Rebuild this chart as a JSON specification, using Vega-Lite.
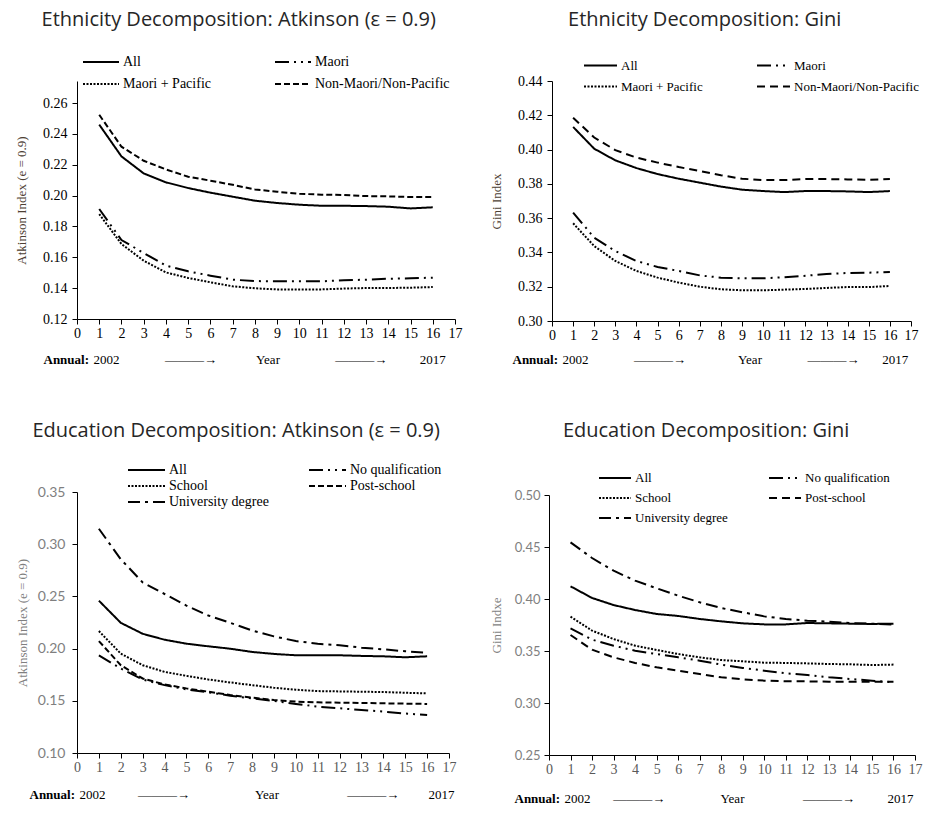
{
  "$schema": "https://vega.github.io/schema/vega-lite/v6.json",
  "background": "white",
  "padding": {"left": 15, "top": 10, "right": 2, "bottom": 2},
  "columns": 2,
  "align": "none",
  "spacing": {"row": 55, "column": 28},
  "resolve": {"scale": {"strokeDash": "independent"}, "legend": {"strokeDash": "independent"}},
  "config": {
    "view": {"stroke": null},
    "axis": {"grid": false, "domainColor": "#000000", "tickColor": "#000000", "tickSize": 5, "labelFont": "Liberation Serif", "labelFontSize": 14, "labelColor": "#000000", "labelOverlap": false, "labelFlush": false, "titleFont": "Liberation Serif", "titleFontSize": 13, "titleFontWeight": "normal", "titleColor": "#000000"},
    "axisX": {"titleAnchor": "start", "titleAlign": "left", "titleBaseline": "middle"},
    "legend": {"labelFont": "Liberation Serif", "labelFontSize": 14, "labelColor": "#000000", "labelOffset": 3, "symbolType": "stroke", "symbolStrokeColor": "#000000", "symbolStrokeWidth": 2, "symbolSize": 1296, "title": null, "padding": 0, "rowPadding": 0},
    "title": {"font": "Open Sans", "fontSize": 20, "fontWeight": "normal", "color": "#262626", "anchor": "middle", "frame": "bounds"}
  },
  "datasets": {
    "eth_atk": [
      {"g": "All", "t": 1, "v": 0.246}, {"g": "All", "t": 2, "v": 0.2254}, {"g": "All", "t": 3, "v": 0.2144}, {"g": "All", "t": 4, "v": 0.2086}, {"g": "All", "t": 5, "v": 0.2049}, {"g": "All", "t": 6, "v": 0.2019}, {"g": "All", "t": 7, "v": 0.1993}, {"g": "All", "t": 8, "v": 0.1967}, {"g": "All", "t": 9, "v": 0.1952}, {"g": "All", "t": 10, "v": 0.1941}, {"g": "All", "t": 11, "v": 0.1934}, {"g": "All", "t": 12, "v": 0.1934}, {"g": "All", "t": 13, "v": 0.1932}, {"g": "All", "t": 14, "v": 0.1928}, {"g": "All", "t": 15, "v": 0.1917}, {"g": "All", "t": 16, "v": 0.1924},
      {"g": "Maori", "t": 1, "v": 0.1913}, {"g": "Maori", "t": 2, "v": 0.1712}, {"g": "Maori", "t": 3, "v": 0.1628}, {"g": "Maori", "t": 4, "v": 0.1546}, {"g": "Maori", "t": 5, "v": 0.1509}, {"g": "Maori", "t": 6, "v": 0.1481}, {"g": "Maori", "t": 7, "v": 0.1455}, {"g": "Maori", "t": 8, "v": 0.1446}, {"g": "Maori", "t": 9, "v": 0.1444}, {"g": "Maori", "t": 10, "v": 0.1444}, {"g": "Maori", "t": 11, "v": 0.1444}, {"g": "Maori", "t": 12, "v": 0.1451}, {"g": "Maori", "t": 13, "v": 0.1455}, {"g": "Maori", "t": 14, "v": 0.1461}, {"g": "Maori", "t": 15, "v": 0.1464}, {"g": "Maori", "t": 16, "v": 0.1468},
      {"g": "Maori + Pacific", "t": 1, "v": 0.188}, {"g": "Maori + Pacific", "t": 2, "v": 0.1686}, {"g": "Maori + Pacific", "t": 3, "v": 0.1578}, {"g": "Maori + Pacific", "t": 4, "v": 0.1502}, {"g": "Maori + Pacific", "t": 5, "v": 0.1466}, {"g": "Maori + Pacific", "t": 6, "v": 0.1438}, {"g": "Maori + Pacific", "t": 7, "v": 0.1412}, {"g": "Maori + Pacific", "t": 8, "v": 0.1399}, {"g": "Maori + Pacific", "t": 9, "v": 0.1392}, {"g": "Maori + Pacific", "t": 10, "v": 0.1392}, {"g": "Maori + Pacific", "t": 11, "v": 0.1392}, {"g": "Maori + Pacific", "t": 12, "v": 0.1397}, {"g": "Maori + Pacific", "t": 13, "v": 0.1401}, {"g": "Maori + Pacific", "t": 14, "v": 0.1401}, {"g": "Maori + Pacific", "t": 15, "v": 0.1403}, {"g": "Maori + Pacific", "t": 16, "v": 0.1407},
      {"g": "Non-Maori/Non-Pacific", "t": 1, "v": 0.2524}, {"g": "Non-Maori/Non-Pacific", "t": 2, "v": 0.2317}, {"g": "Non-Maori/Non-Pacific", "t": 3, "v": 0.2226}, {"g": "Non-Maori/Non-Pacific", "t": 4, "v": 0.217}, {"g": "Non-Maori/Non-Pacific", "t": 5, "v": 0.2122}, {"g": "Non-Maori/Non-Pacific", "t": 6, "v": 0.2097}, {"g": "Non-Maori/Non-Pacific", "t": 7, "v": 0.207}, {"g": "Non-Maori/Non-Pacific", "t": 8, "v": 0.204}, {"g": "Non-Maori/Non-Pacific", "t": 9, "v": 0.2025}, {"g": "Non-Maori/Non-Pacific", "t": 10, "v": 0.2012}, {"g": "Non-Maori/Non-Pacific", "t": 11, "v": 0.2006}, {"g": "Non-Maori/Non-Pacific", "t": 12, "v": 0.2004}, {"g": "Non-Maori/Non-Pacific", "t": 13, "v": 0.1997}, {"g": "Non-Maori/Non-Pacific", "t": 14, "v": 0.1995}, {"g": "Non-Maori/Non-Pacific", "t": 15, "v": 0.1991}, {"g": "Non-Maori/Non-Pacific", "t": 16, "v": 0.1991}
    ],
    "eth_gini": [
      {"g": "All", "t": 1, "v": 0.4132}, {"g": "All", "t": 2, "v": 0.4005}, {"g": "All", "t": 3, "v": 0.3937}, {"g": "All", "t": 4, "v": 0.3892}, {"g": "All", "t": 5, "v": 0.3857}, {"g": "All", "t": 6, "v": 0.383}, {"g": "All", "t": 7, "v": 0.3807}, {"g": "All", "t": 8, "v": 0.3784}, {"g": "All", "t": 9, "v": 0.3766}, {"g": "All", "t": 10, "v": 0.3758}, {"g": "All", "t": 11, "v": 0.3752}, {"g": "All", "t": 12, "v": 0.3758}, {"g": "All", "t": 13, "v": 0.3758}, {"g": "All", "t": 14, "v": 0.3756}, {"g": "All", "t": 15, "v": 0.3752}, {"g": "All", "t": 16, "v": 0.3758},
      {"g": "Maori", "t": 1, "v": 0.3632}, {"g": "Maori", "t": 2, "v": 0.3486}, {"g": "Maori", "t": 3, "v": 0.3408}, {"g": "Maori", "t": 4, "v": 0.335}, {"g": "Maori", "t": 5, "v": 0.3315}, {"g": "Maori", "t": 6, "v": 0.3292}, {"g": "Maori", "t": 7, "v": 0.3266}, {"g": "Maori", "t": 8, "v": 0.3253}, {"g": "Maori", "t": 9, "v": 0.3249}, {"g": "Maori", "t": 10, "v": 0.3249}, {"g": "Maori", "t": 11, "v": 0.3255}, {"g": "Maori", "t": 12, "v": 0.3264}, {"g": "Maori", "t": 13, "v": 0.3274}, {"g": "Maori", "t": 14, "v": 0.328}, {"g": "Maori", "t": 15, "v": 0.3282}, {"g": "Maori", "t": 16, "v": 0.3286},
      {"g": "Maori + Pacific", "t": 1, "v": 0.357}, {"g": "Maori + Pacific", "t": 2, "v": 0.3437}, {"g": "Maori + Pacific", "t": 3, "v": 0.335}, {"g": "Maori + Pacific", "t": 4, "v": 0.3292}, {"g": "Maori + Pacific", "t": 5, "v": 0.3253}, {"g": "Maori + Pacific", "t": 6, "v": 0.3224}, {"g": "Maori + Pacific", "t": 7, "v": 0.32}, {"g": "Maori + Pacific", "t": 8, "v": 0.3185}, {"g": "Maori + Pacific", "t": 9, "v": 0.3179}, {"g": "Maori + Pacific", "t": 10, "v": 0.3179}, {"g": "Maori + Pacific", "t": 11, "v": 0.3183}, {"g": "Maori + Pacific", "t": 12, "v": 0.3187}, {"g": "Maori + Pacific", "t": 13, "v": 0.3193}, {"g": "Maori + Pacific", "t": 14, "v": 0.3198}, {"g": "Maori + Pacific", "t": 15, "v": 0.3198}, {"g": "Maori + Pacific", "t": 16, "v": 0.3204},
      {"g": "Non-Maori/Non-Pacific", "t": 1, "v": 0.4186}, {"g": "Non-Maori/Non-Pacific", "t": 2, "v": 0.407}, {"g": "Non-Maori/Non-Pacific", "t": 3, "v": 0.3997}, {"g": "Non-Maori/Non-Pacific", "t": 4, "v": 0.3953}, {"g": "Non-Maori/Non-Pacific", "t": 5, "v": 0.3924}, {"g": "Non-Maori/Non-Pacific", "t": 6, "v": 0.3898}, {"g": "Non-Maori/Non-Pacific", "t": 7, "v": 0.3875}, {"g": "Non-Maori/Non-Pacific", "t": 8, "v": 0.385}, {"g": "Non-Maori/Non-Pacific", "t": 9, "v": 0.383}, {"g": "Non-Maori/Non-Pacific", "t": 10, "v": 0.3822}, {"g": "Non-Maori/Non-Pacific", "t": 11, "v": 0.3822}, {"g": "Non-Maori/Non-Pacific", "t": 12, "v": 0.3828}, {"g": "Non-Maori/Non-Pacific", "t": 13, "v": 0.3828}, {"g": "Non-Maori/Non-Pacific", "t": 14, "v": 0.3826}, {"g": "Non-Maori/Non-Pacific", "t": 15, "v": 0.3824}, {"g": "Non-Maori/Non-Pacific", "t": 16, "v": 0.3828}
    ],
    "edu_atk": [
      {"g": "All", "t": 1, "v": 0.2459}, {"g": "All", "t": 2, "v": 0.2247}, {"g": "All", "t": 3, "v": 0.2142}, {"g": "All", "t": 4, "v": 0.2085}, {"g": "All", "t": 5, "v": 0.2047}, {"g": "All", "t": 6, "v": 0.2022}, {"g": "All", "t": 7, "v": 0.1999}, {"g": "All", "t": 8, "v": 0.1968}, {"g": "All", "t": 9, "v": 0.1949}, {"g": "All", "t": 10, "v": 0.1936}, {"g": "All", "t": 11, "v": 0.1936}, {"g": "All", "t": 12, "v": 0.1936}, {"g": "All", "t": 13, "v": 0.193}, {"g": "All", "t": 14, "v": 0.1926}, {"g": "All", "t": 15, "v": 0.1917}, {"g": "All", "t": 16, "v": 0.1926},
      {"g": "No qualification", "t": 1, "v": 0.1936}, {"g": "No qualification", "t": 2, "v": 0.1809}, {"g": "No qualification", "t": 3, "v": 0.1704}, {"g": "No qualification", "t": 4, "v": 0.165}, {"g": "No qualification", "t": 5, "v": 0.1609}, {"g": "No qualification", "t": 6, "v": 0.1581}, {"g": "No qualification", "t": 7, "v": 0.1549}, {"g": "No qualification", "t": 8, "v": 0.1523}, {"g": "No qualification", "t": 9, "v": 0.1498}, {"g": "No qualification", "t": 10, "v": 0.147}, {"g": "No qualification", "t": 11, "v": 0.1444}, {"g": "No qualification", "t": 12, "v": 0.1428}, {"g": "No qualification", "t": 13, "v": 0.1412}, {"g": "No qualification", "t": 14, "v": 0.1397}, {"g": "No qualification", "t": 15, "v": 0.1378}, {"g": "No qualification", "t": 16, "v": 0.1365},
      {"g": "School", "t": 1, "v": 0.2168}, {"g": "School", "t": 2, "v": 0.1952}, {"g": "School", "t": 3, "v": 0.1841}, {"g": "School", "t": 4, "v": 0.1777}, {"g": "School", "t": 5, "v": 0.1739}, {"g": "School", "t": 6, "v": 0.1704}, {"g": "School", "t": 7, "v": 0.1676}, {"g": "School", "t": 8, "v": 0.165}, {"g": "School", "t": 9, "v": 0.1625}, {"g": "School", "t": 10, "v": 0.1606}, {"g": "School", "t": 11, "v": 0.1593}, {"g": "School", "t": 12, "v": 0.159}, {"g": "School", "t": 13, "v": 0.1587}, {"g": "School", "t": 14, "v": 0.1584}, {"g": "School", "t": 15, "v": 0.1577}, {"g": "School", "t": 16, "v": 0.1571},
      {"g": "Post-school", "t": 1, "v": 0.2072}, {"g": "Post-school", "t": 2, "v": 0.1841}, {"g": "Post-school", "t": 3, "v": 0.1714}, {"g": "Post-school", "t": 4, "v": 0.1657}, {"g": "Post-school", "t": 5, "v": 0.1619}, {"g": "Post-school", "t": 6, "v": 0.1587}, {"g": "Post-school", "t": 7, "v": 0.1555}, {"g": "Post-school", "t": 8, "v": 0.153}, {"g": "Post-school", "t": 9, "v": 0.1508}, {"g": "Post-school", "t": 10, "v": 0.1492}, {"g": "Post-school", "t": 11, "v": 0.1485}, {"g": "Post-school", "t": 12, "v": 0.1482}, {"g": "Post-school", "t": 13, "v": 0.1479}, {"g": "Post-school", "t": 14, "v": 0.1476}, {"g": "Post-school", "t": 15, "v": 0.1473}, {"g": "Post-school", "t": 16, "v": 0.147},
      {"g": "University degree", "t": 1, "v": 0.3148}, {"g": "University degree", "t": 2, "v": 0.2856}, {"g": "University degree", "t": 3, "v": 0.2634}, {"g": "University degree", "t": 4, "v": 0.2523}, {"g": "University degree", "t": 5, "v": 0.2412}, {"g": "University degree", "t": 6, "v": 0.2317}, {"g": "University degree", "t": 7, "v": 0.2247}, {"g": "University degree", "t": 8, "v": 0.2174}, {"g": "University degree", "t": 9, "v": 0.2117}, {"g": "University degree", "t": 10, "v": 0.2072}, {"g": "University degree", "t": 11, "v": 0.2047}, {"g": "University degree", "t": 12, "v": 0.2031}, {"g": "University degree", "t": 13, "v": 0.2009}, {"g": "University degree", "t": 14, "v": 0.1993}, {"g": "University degree", "t": 15, "v": 0.1974}, {"g": "University degree", "t": 16, "v": 0.1961}
    ],
    "edu_gini": [
      {"g": "All", "t": 1, "v": 0.4122}, {"g": "All", "t": 2, "v": 0.401}, {"g": "All", "t": 3, "v": 0.3942}, {"g": "All", "t": 4, "v": 0.3894}, {"g": "All", "t": 5, "v": 0.3856}, {"g": "All", "t": 6, "v": 0.3837}, {"g": "All", "t": 7, "v": 0.3808}, {"g": "All", "t": 8, "v": 0.3785}, {"g": "All", "t": 9, "v": 0.3766}, {"g": "All", "t": 10, "v": 0.3756}, {"g": "All", "t": 11, "v": 0.3756}, {"g": "All", "t": 12, "v": 0.3769}, {"g": "All", "t": 13, "v": 0.3766}, {"g": "All", "t": 14, "v": 0.3763}, {"g": "All", "t": 15, "v": 0.376}, {"g": "All", "t": 16, "v": 0.3763},
      {"g": "No qualification", "t": 1, "v": 0.3718}, {"g": "No qualification", "t": 2, "v": 0.3609}, {"g": "No qualification", "t": 3, "v": 0.3551}, {"g": "No qualification", "t": 4, "v": 0.3503}, {"g": "No qualification", "t": 5, "v": 0.3471}, {"g": "No qualification", "t": 6, "v": 0.3439}, {"g": "No qualification", "t": 7, "v": 0.3407}, {"g": "No qualification", "t": 8, "v": 0.3369}, {"g": "No qualification", "t": 9, "v": 0.3337}, {"g": "No qualification", "t": 10, "v": 0.3311}, {"g": "No qualification", "t": 11, "v": 0.3285}, {"g": "No qualification", "t": 12, "v": 0.3269}, {"g": "No qualification", "t": 13, "v": 0.3247}, {"g": "No qualification", "t": 14, "v": 0.3231}, {"g": "No qualification", "t": 15, "v": 0.3215}, {"g": "No qualification", "t": 16, "v": 0.3199},
      {"g": "School", "t": 1, "v": 0.383}, {"g": "School", "t": 2, "v": 0.3696}, {"g": "School", "t": 3, "v": 0.3615}, {"g": "School", "t": 4, "v": 0.3551}, {"g": "School", "t": 5, "v": 0.351}, {"g": "School", "t": 6, "v": 0.3471}, {"g": "School", "t": 7, "v": 0.3439}, {"g": "School", "t": 8, "v": 0.3413}, {"g": "School", "t": 9, "v": 0.3401}, {"g": "School", "t": 10, "v": 0.3388}, {"g": "School", "t": 11, "v": 0.3385}, {"g": "School", "t": 12, "v": 0.3381}, {"g": "School", "t": 13, "v": 0.3375}, {"g": "School", "t": 14, "v": 0.3372}, {"g": "School", "t": 15, "v": 0.3365}, {"g": "School", "t": 16, "v": 0.3369},
      {"g": "Post-school", "t": 1, "v": 0.3654}, {"g": "Post-school", "t": 2, "v": 0.3513}, {"g": "Post-school", "t": 3, "v": 0.3439}, {"g": "Post-school", "t": 4, "v": 0.3385}, {"g": "Post-school", "t": 5, "v": 0.3343}, {"g": "Post-school", "t": 6, "v": 0.3311}, {"g": "Post-school", "t": 7, "v": 0.3279}, {"g": "Post-school", "t": 8, "v": 0.3247}, {"g": "Post-school", "t": 9, "v": 0.3228}, {"g": "Post-school", "t": 10, "v": 0.3215}, {"g": "Post-school", "t": 11, "v": 0.3208}, {"g": "Post-school", "t": 12, "v": 0.3208}, {"g": "Post-school", "t": 13, "v": 0.3205}, {"g": "Post-school", "t": 14, "v": 0.3205}, {"g": "Post-school", "t": 15, "v": 0.3205}, {"g": "Post-school", "t": 16, "v": 0.3205},
      {"g": "University degree", "t": 1, "v": 0.4545}, {"g": "University degree", "t": 2, "v": 0.4394}, {"g": "University degree", "t": 3, "v": 0.4272}, {"g": "University degree", "t": 4, "v": 0.4176}, {"g": "University degree", "t": 5, "v": 0.4103}, {"g": "University degree", "t": 6, "v": 0.4032}, {"g": "University degree", "t": 7, "v": 0.3968}, {"g": "University degree", "t": 8, "v": 0.3913}, {"g": "University degree", "t": 9, "v": 0.3872}, {"g": "University degree", "t": 10, "v": 0.3833}, {"g": "University degree", "t": 11, "v": 0.3808}, {"g": "University degree", "t": 12, "v": 0.3792}, {"g": "University degree", "t": 13, "v": 0.3782}, {"g": "University degree", "t": 14, "v": 0.3769}, {"g": "University degree", "t": 15, "v": 0.3763}, {"g": "University degree", "t": 16, "v": 0.3753}
    ]
  },
  "concat": [
    {
      "title": {"text": "Ethnicity Decomposition: Atkinson (ε = 0.9)", "offset": 21},
      "width": 378, "height": 238,
      "data": {"name": "eth_atk"},
      "resolve": {"axis": {"x": "independent"}},
      "layer": [
        {
          "mark": {"type": "line", "color": "#000000", "strokeWidth": 2},
          "encoding": {
            "x": {"field": "t", "type": "quantitative", "scale": {"domain": [0, 17], "nice": false}, "axis": {"values": [0,1,2,3,4,5,6,7,8,9,10,11,12,13,14,15,16,17], "titleY": 40, "titleX": 16, "title": "2002\u00a0\u00a0\u00a0\u00a0\u00a0\u00a0\u00a0\u00a0\u00a0\u00a0\u00a0\u00a0\u00a0\u00a0———→\u00a0\u00a0\u00a0\u00a0\u00a0\u00a0\u00a0\u00a0\u00a0\u00a0\u00a0\u00a0Year\u00a0\u00a0\u00a0\u00a0\u00a0\u00a0\u00a0\u00a0\u00a0\u00a0\u00a0\u00a0\u00a0\u00a0\u00a0\u00a0\u00a0———→\u00a0\u00a0\u00a0\u00a0\u00a0\u00a0\u00a0\u00a0\u00a0\u00a02017"}},
            "y": {"field": "v", "type": "quantitative", "scale": {"domain": [0.12, 0.2743], "nice": false, "zero": false}, "axis": {"values": [0.12,0.14,0.16,0.18,0.2,0.22,0.24,0.26], "format": ".2f", "title": "Atkinson Index (e = 0.9)", "titleColor": "#4d4033", "labelPadding": 5, "titlePadding": 14}},
            "strokeDash": {"field": "g", "type": "nominal", "scale": {"domain": ["All", "Maori + Pacific", "Maori", "Non-Maori/Non-Pacific"], "range": [[1, 0], [2, 1.5], [14, 5, 2, 5, 2, 5], [6, 3]]}, "legend": {"orient": "none", "legendX": 5, "legendY": -30, "columns": 2, "columnPadding": 63, "clipHeight": 22}}
          }
        },
        {
          "mark": {"type": "rule", "strokeOpacity": 0},
          "encoding": {
            "x": {"field": "t", "type": "quantitative", "scale": {"domain": [0, 17], "nice": false}, "axis": {"orient": "bottom", "labels": false, "ticks": false, "domain": false, "titleY": 40, "titleX": -34, "title": "Annual:", "titleFontWeight": "bold"}}
          }
        }
      ]
    },
    {
      "title": {"text": "Ethnicity Decomposition: Gini", "offset": 25},
      "width": 359, "height": 240,
      "data": {"name": "eth_gini"},
      "resolve": {"axis": {"x": "independent"}},
      "layer": [
        {
          "mark": {"type": "line", "color": "#000000", "strokeWidth": 2},
          "encoding": {
            "x": {"field": "t", "type": "quantitative", "scale": {"domain": [0, 17], "nice": false}, "axis": {"values": [0,1,2,3,4,5,6,7,8,9,10,11,12,13,14,15,16,17], "titleY": 38, "titleX": 10, "title": "2002\u00a0\u00a0\u00a0\u00a0\u00a0\u00a0\u00a0\u00a0\u00a0\u00a0\u00a0\u00a0\u00a0\u00a0———→\u00a0\u00a0\u00a0\u00a0\u00a0\u00a0\u00a0\u00a0\u00a0\u00a0\u00a0\u00a0\u00a0\u00a0\u00a0\u00a0Year\u00a0\u00a0\u00a0\u00a0\u00a0\u00a0\u00a0\u00a0\u00a0\u00a0\u00a0\u00a0\u00a0\u00a0———→\u00a0\u00a0\u00a0\u00a0\u00a0\u00a0\u00a02017"}},
            "y": {"field": "v", "type": "quantitative", "scale": {"domain": [0.3, 0.44], "nice": false, "zero": false}, "axis": {"values": [0.3,0.32,0.34,0.36,0.38,0.4,0.42,0.44], "format": ".2f", "title": "Gini Index", "titleColor": "#4d4033", "labelPadding": 5, "titlePadding": 14}},
            "strokeDash": {"field": "g", "type": "nominal", "scale": {"domain": ["All", "Maori + Pacific", "Maori", "Non-Maori/Non-Pacific"], "range": [[1, 0], [2, 1.5], [14, 5, 2, 5, 2, 5], [8, 5]]}, "legend": {"orient": "none", "legendX": 31, "legendY": -26, "columns": 2, "columnPadding": 53, "clipHeight": 21, "labelFontSize": 13, "symbolSize": 1089}}
          }
        },
        {
          "mark": {"type": "rule", "strokeOpacity": 0},
          "encoding": {
            "x": {"field": "t", "type": "quantitative", "scale": {"domain": [0, 17], "nice": false}, "axis": {"orient": "bottom", "labels": false, "ticks": false, "domain": false, "titleY": 38, "titleX": -40, "title": "Annual:", "titleFontWeight": "bold"}}
          }
        }
      ]
    },
    {
      "title": {"text": "Education Decomposition: Atkinson (ε = 0.9)", "offset": 21},
      "width": 372, "height": 261,
      "data": {"name": "edu_atk"},
      "resolve": {"axis": {"x": "independent"}},
      "layer": [
        {
          "mark": {"type": "line", "color": "#000000", "strokeWidth": 2},
          "encoding": {
            "x": {"field": "t", "type": "quantitative", "scale": {"domain": [0, 17], "nice": false}, "axis": {"values": [0,1,2,3,4,5,6,7,8,9,10,11,12,13,14,15,16,17], "labelColor": "#595959", "titleY": 41, "titleX": 2, "title": "2002\u00a0\u00a0\u00a0\u00a0\u00a0\u00a0\u00a0\u00a0\u00a0\u00a0———→\u00a0\u00a0\u00a0\u00a0\u00a0\u00a0\u00a0\u00a0\u00a0\u00a0\u00a0\u00a0\u00a0\u00a0\u00a0\u00a0\u00a0\u00a0\u00a0\u00a0Year\u00a0\u00a0\u00a0\u00a0\u00a0\u00a0\u00a0\u00a0\u00a0\u00a0\u00a0\u00a0\u00a0\u00a0\u00a0\u00a0\u00a0\u00a0\u00a0\u00a0\u00a0———→\u00a0\u00a0\u00a0\u00a0\u00a0\u00a0\u00a0\u00a0\u00a02017"}},
            "y": {"field": "v", "type": "quantitative", "scale": {"domain": [0.1, 0.35], "nice": false, "zero": false}, "axis": {"values": [0.1,0.15,0.2,0.25,0.3,0.35], "format": ".2f", "title": "Atkinson Index (e = 0.9)", "titleColor": "#7f7f7f", "labelColor": "#7f7f7f", "labelFont": "Lato", "labelFontSize": 14, "labelPadding": 7, "titlePadding": 8}},
            "strokeDash": {"field": "g", "type": "nominal", "scale": {"domain": ["All", "School", "University degree", "No qualification", "Post-school"], "range": [[1, 0], [2, 1.5], [12, 5, 3, 5], [14, 5, 2, 5, 2, 5], [6, 3]]}, "legend": {"orient": "none", "legendX": 50, "legendY": -30, "columns": 2, "columnPadding": 39, "clipHeight": 16, "symbolSize": 1369}}
          }
        },
        {
          "mark": {"type": "rule", "strokeOpacity": 0},
          "encoding": {
            "x": {"field": "t", "type": "quantitative", "scale": {"domain": [0, 17], "nice": false}, "axis": {"orient": "bottom", "labels": false, "ticks": false, "domain": false, "titleY": 41, "titleX": -48, "title": "Annual:", "titleFontWeight": "bold"}}
          }
        }
      ]
    },
    {
      "title": {"text": "Education Decomposition: Gini", "offset": 27},
      "width": 366, "height": 260,
      "data": {"name": "edu_gini"},
      "resolve": {"axis": {"x": "independent"}},
      "layer": [
        {
          "mark": {"type": "line", "color": "#000000", "strokeWidth": 2},
          "encoding": {
            "x": {"field": "t", "type": "quantitative", "scale": {"domain": [0, 17], "nice": false}, "axis": {"values": [0,1,2,3,4,5,6,7,8,9,10,11,12,13,14,15,16,17], "labelColor": "#595959", "titleY": 43, "titleX": 15, "title": "2002\u00a0\u00a0\u00a0\u00a0\u00a0\u00a0\u00a0———→\u00a0\u00a0\u00a0\u00a0\u00a0\u00a0\u00a0\u00a0\u00a0\u00a0\u00a0\u00a0\u00a0\u00a0\u00a0\u00a0\u00a0Year\u00a0\u00a0\u00a0\u00a0\u00a0\u00a0\u00a0\u00a0\u00a0\u00a0\u00a0\u00a0\u00a0\u00a0\u00a0\u00a0\u00a0\u00a0———→\u00a0\u00a0\u00a0\u00a0\u00a0\u00a0\u00a0\u00a0\u00a0\u00a02017"}},
            "y": {"field": "v", "type": "quantitative", "scale": {"domain": [0.25, 0.5], "nice": false, "zero": false}, "axis": {"values": [0.25,0.3,0.35,0.4,0.45,0.5], "format": ".2f", "title": "Gini Indxe", "titleColor": "#7f7f7f", "labelColor": "#7f7f7f", "labelFont": "Lato", "labelFontSize": 13, "labelPadding": 4, "titlePadding": 11}},
            "strokeDash": {"field": "g", "type": "nominal", "scale": {"domain": ["All", "School", "University degree", "No qualification", "Post-school"], "range": [[1, 0], [2, 1.5], [12, 5, 3, 5], [14, 5, 2, 5, 2, 5], [8, 5]]}, "legend": {"orient": "none", "legendX": 49, "legendY": -27, "columns": 2, "columnPadding": 40, "clipHeight": 20, "labelFontSize": 13, "symbolSize": 1024}}
          }
        },
        {
          "mark": {"type": "rule", "strokeOpacity": 0},
          "encoding": {
            "x": {"field": "t", "type": "quantitative", "scale": {"domain": [0, 17], "nice": false}, "axis": {"orient": "bottom", "labels": false, "ticks": false, "domain": false, "titleY": 43, "titleX": -35, "title": "Annual:", "titleFontWeight": "bold"}}
          }
        }
      ]
    }
  ]
}
